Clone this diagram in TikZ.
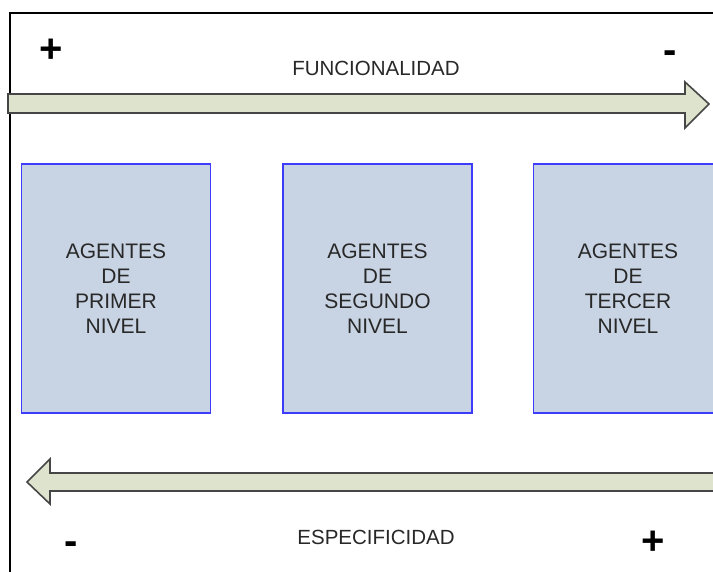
\documentclass[tikz,border=0pt]{standalone}
\usepackage{fontspec}
\setmainfont{Liberation Sans}
\definecolor{boxfill}{RGB}{200,212,227}
\definecolor{boxline}{RGB}{60,60,250}
\definecolor{arrfill}{RGB}{221,227,204}
\definecolor{arrline}{RGB}{70,70,70}
\definecolor{txt}{RGB}{40,40,40}
\tikzset{
  agentbox/.style={draw=boxline, line width=1.8pt, fill=boxfill, minimum width=189pt, minimum height=249pt,
    inner sep=0pt, align=center, text=txt, font=\fontsize{21}{25}\selectfont},
  bigarrow/.style={draw=arrline, line width=1.6pt, fill=arrfill, line join=miter},
  axislabel/.style={text=txt, font=\fontsize{20.5}{22}\selectfont, inner sep=0pt},
  signlabel/.style={text=black, font=\fontsize{40}{40}\selectfont\bfseries, inner sep=0pt}
}
\begin{document}
\begin{tikzpicture}[x=1pt,y=-1pt]
\clip (0,0) rectangle (713,572);
\fill[white] (0,0) rectangle (713,572);
% frame
\draw[line width=2.4pt, black] (10,575) -- (10,13) -- (720,13);
% top arrow
\draw[bigarrow] (8,94) -- (685,94) -- (685,82) -- (709,104) -- (685,128) -- (685,113) -- (8,113) -- cycle;
% bottom arrow
\draw[bigarrow] (725,473) -- (50,473) -- (50,459) -- (27,482) -- (50,504) -- (50,491) -- (725,491) -- cycle;
% boxes
\node[agentbox] (b1) at (116,288.5) {AGENTES\\DE\\PRIMER\\NIVEL};
\node[agentbox] (b2) at (377.5,288.5) {AGENTES\\DE\\SEGUNDO\\NIVEL};
\node[agentbox] (b3) at (628,288.5) {AGENTES\\DE\\TERCER\\NIVEL};
% labels
\node[axislabel] (func) at (376,68) {FUNCIONALIDAD};
\node[axislabel] (espe) at (376,537) {ESPECIFICIDAD};
\node[signlabel] (p1) at (51,51) {+};
\node[signlabel] (m1) at (670,57) {-};
\node[signlabel] (m2) at (71,548) {-};
\node[signlabel] (p2) at (653,543) {+};
\end{tikzpicture}
\end{document}
